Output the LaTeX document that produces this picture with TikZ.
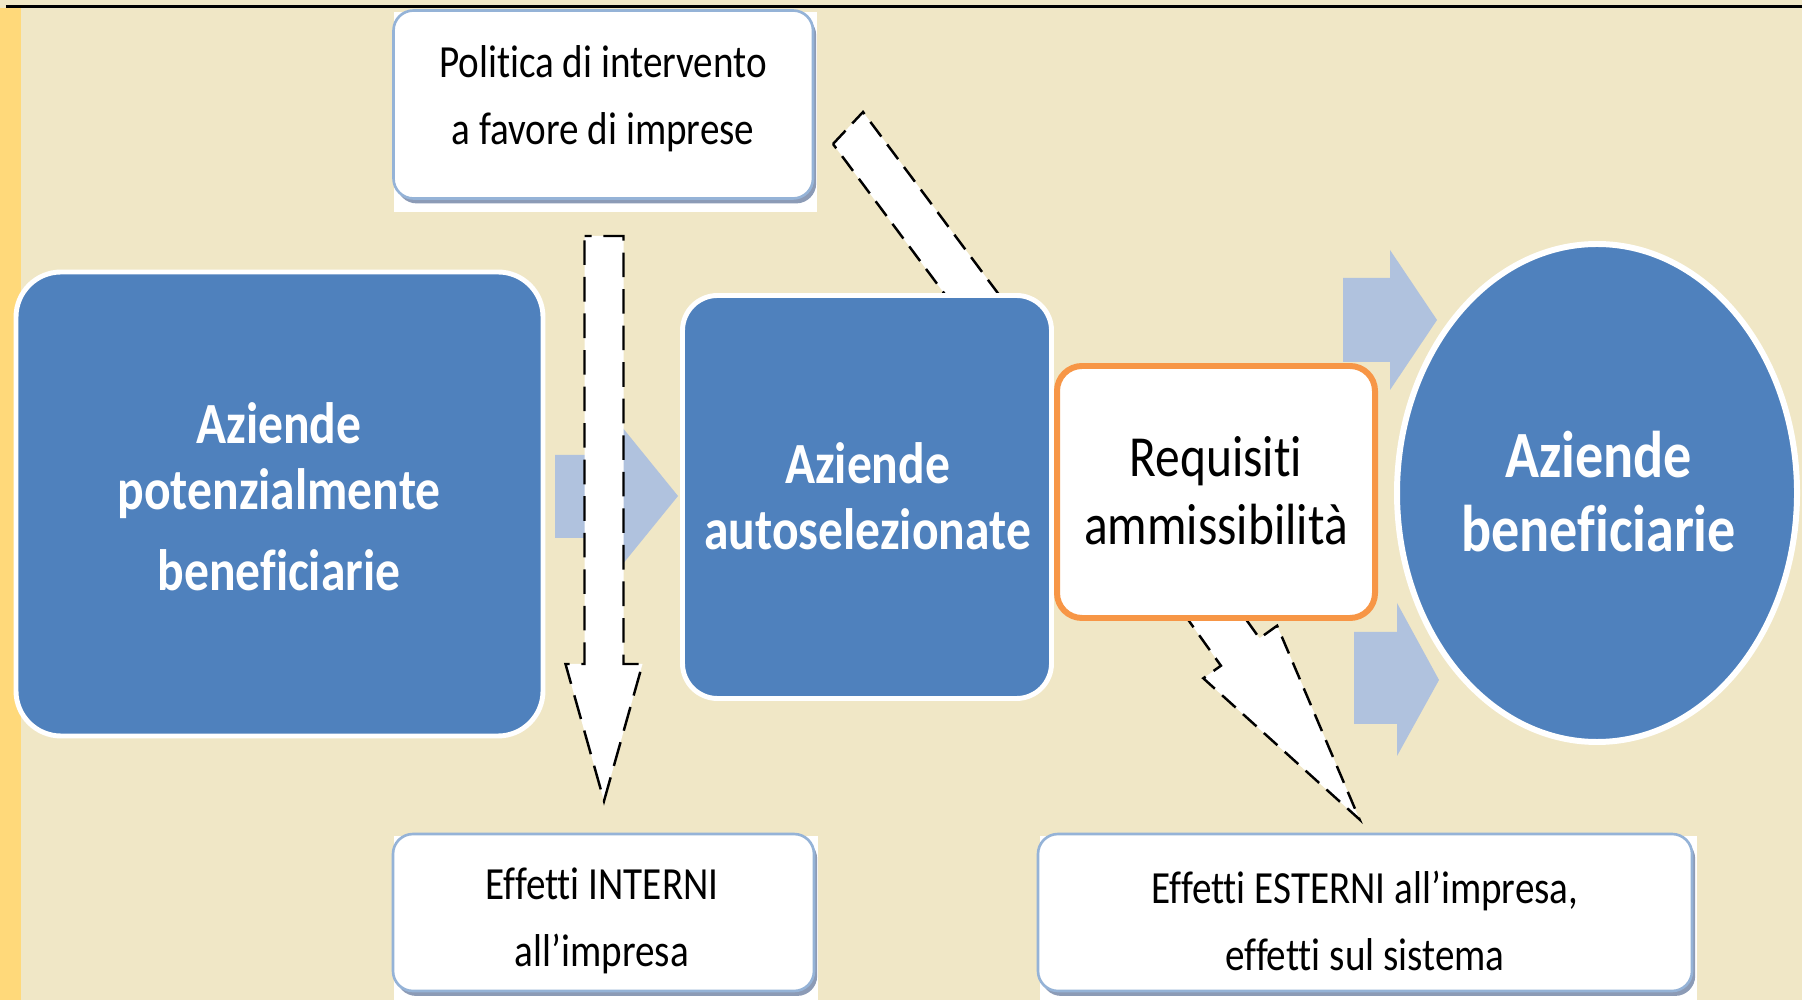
\documentclass[tikz,border=0pt]{standalone}
\usepackage{fontspec}
\newfontfamily\cfont[FakeStretch=0.85,Ligatures=NoCommon]{Carlito}
\usetikzlibrary{shapes.geometric,shadows}
\definecolor{bg}{RGB}{240,231,198}
\definecolor{stripe}{RGB}{255,217,122}
\definecolor{boxblue}{RGB}{79,129,189}
\definecolor{arrowblue}{RGB}{176,194,222}
\definecolor{bordblue}{RGB}{149,179,215}
\definecolor{shadowc}{RGB}{140,155,182}
\definecolor{orangec}{RGB}{247,150,70}
\begin{document}
\begin{tikzpicture}[x=1cm,y=1cm,
  bluebox/.style={draw=white, line width=1.4pt, fill=boxblue, inner sep=0pt},
  whitebox/.style={draw=bordblue, line width=0.75pt, fill=white, rounded corners=0.2cm, inner sep=0pt,
     drop shadow={shadow xshift=0.9pt, shadow yshift=-1.4pt, fill=shadowc, opacity=1}},
  regtext/.style={font=\cfont\fontsize{13.1}{19.06}\selectfont, align=center, inner sep=0pt},
  boldtext/.style={font=\cfont\bfseries\fontsize{16.6}{18.8}\selectfont, text=white, align=center, inner sep=0pt},
  blockarrow/.style={fill=arrowblue, draw=none},
  dasharrow/.style={fill=white, draw=black, line width=0.7pt, dash pattern=on 5.2pt off 2.8pt, line join=miter},
  dashvert/.style={dasharrow, dash pattern=on 7pt off 3.4pt, dash phase=5pt},
]
\useasboundingbox (0,0) rectangle (18.02,-10);
\fill[bg] (0,0) rectangle (18.02,-10);
\fill[stripe] (0,-0.08) rectangle (0.21,-10);
\draw[line width=0.6pt] (0.06,-0.065) -- (18.02,-0.065);

% white bitmap backgrounds
\fill[white] (3.94,-0.12) rectangle (8.17,-2.12);
\fill[white] (3.94,-8.36) rectangle (8.18,-10);
\fill[white] (10.40,-8.36) rectangle (16.97,-10);

% top box
\node[whitebox, minimum width=4.195cm, minimum height=1.88cm] (T) at (6.0325,-1.045) {};
\node[regtext] (Ttxt) at (6.03,-0.985) {Politica di intervento\\a favore di imprese};

% bottom boxes
\node[whitebox, minimum width=4.21cm, minimum height=1.57cm] (BL) at (6.035,-9.125) {};
\node[regtext] (BLtxt) at (6.02,-9.21) {Effetti INTERNI\\all’impresa};
\node[whitebox, minimum width=6.54cm, minimum height=1.57cm] (BR) at (13.65,-9.125) {};
\node[regtext] (BRtxt) at (13.65,-9.21) {Effetti ESTERNI all’impresa,\\effetti sul sistema};

% block arrow left -> middle
\fill[blockarrow] (5.55,-4.55) -- (6.22,-4.55) -- (6.22,-4.27) -- (6.78,-4.96) -- (6.22,-5.65) -- (6.22,-5.38) -- (5.55,-5.38) -- cycle;

% vertical dashed arrow
\draw[dashvert] (5.845,-2.36) -- (6.235,-2.36) -- (6.235,-6.64) -- (6.425,-6.64) -- (6.04,-8.01) -- (5.655,-6.64) -- (5.845,-6.64) -- cycle;

% left box
\node[bluebox, rounded corners=0.45cm, minimum width=5.27cm, minimum height=4.64cm] (L) at (2.795,-5.04) {};
\node[boldtext] (Ltxt) at (2.79,-4.97) {Aziende\\potenzialmente\\[4.2pt]beneficiarie};

% diagonal dashed arrow
\draw[dasharrow] (8.33,-1.44) -- (8.63,-1.12) -- (10.063,-3.045) -- (9.763,-3.365) -- cycle;

% middle box
\node[bluebox, rounded corners=0.35cm, minimum width=3.69cm, minimum height=4.03cm] (M) at (8.67,-4.97) {};
\node[boldtext] (Mtxt) at (8.676,-4.96) {Aziende\\autoselezionate};

% block arrows to ellipse
\fill[blockarrow] (13.43,-2.78) -- (13.90,-2.78) -- (13.90,-2.50) -- (14.37,-3.20) -- (13.90,-3.90) -- (13.90,-3.62) -- (13.43,-3.62) -- cycle;
\fill[blockarrow] (13.54,-6.32) -- (13.97,-6.32) -- (13.97,-6.03) -- (14.39,-6.80) -- (13.97,-7.56) -- (13.97,-7.24) -- (13.54,-7.24) -- cycle;

% lower-right dashed arrow
\draw[dasharrow] (11.339,-5.437) -- (12.209,-6.657) -- (12.033,-6.783) -- (13.595,-8.194) -- (12.771,-6.257) -- (12.595,-6.383) -- (11.725,-5.163) -- cycle;

% orange box
\node[draw=orangec, line width=1.7pt, fill=white, rounded corners=0.25cm, inner sep=0pt, minimum width=3.18cm, minimum height=2.52cm] (R) at (12.16,-4.92) {};
\node[font=\cfont\fontsize{16.55}{19.35}\selectfont, align=center, inner sep=0pt] (Rtxt) at (12.16,-4.91) {Requisiti\\ammissibilità};

% ellipse
\node[ellipse, draw=white, line width=1.7pt, fill=boxblue, inner sep=0pt, minimum width=4.0cm, minimum height=4.98cm] (E) at (15.97,-4.93) {};
\node[boldtext, font=\cfont\bfseries\fontsize{18.8}{21.3}\selectfont] (Etxt) at (15.985,-4.915) {Aziende\\beneficiarie};
\end{tikzpicture}
\end{document}
